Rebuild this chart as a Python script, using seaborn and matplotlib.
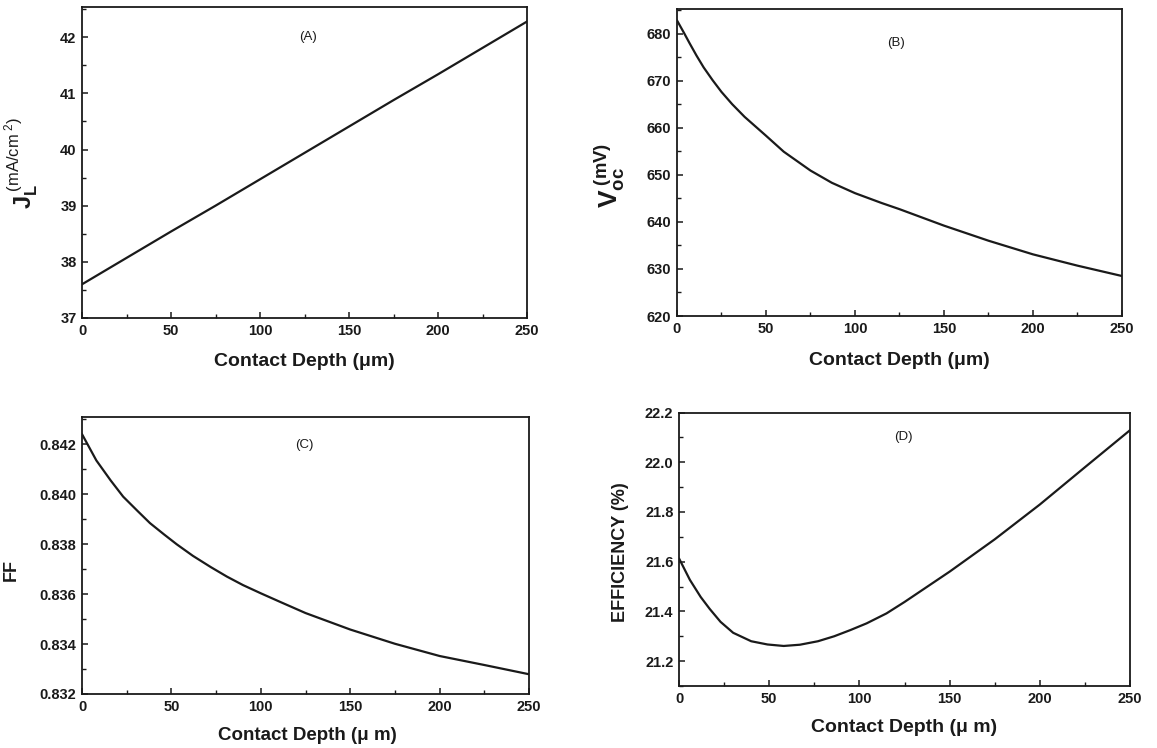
"""
plot.py
Four panels: J_L, Voc, FF and efficiency against contact depth.
"""

import matplotlib
matplotlib.use("Agg")
import matplotlib.pyplot as plt
from matplotlib.ticker import MultipleLocator, FormatStrFormatter
import pandas as pd
import seaborn as sns

# contact depth (um) and values
depth_a = [0, 25, 50, 75, 100, 125, 150, 175, 200, 225, 250]
jl = [37.6, 38.07, 38.54, 39.0, 39.47, 39.94, 40.41, 40.88, 41.34, 41.81, 42.28]

depth_b = [0, 4, 7, 11, 15, 20, 25, 31, 38, 50, 60, 75, 87, 100, 115, 125, 150,
           175, 200, 225, 250]
voc = [682.8, 680.1, 678.0, 675.3, 672.8, 670.1, 667.6, 665.0, 662.3, 658.3,
       654.9, 650.9, 648.3, 646.1, 644.0, 642.7, 639.2, 636.0, 633.1, 630.7, 628.5]

depth_c = [0, 8, 16, 23, 31, 38, 46, 53, 62, 72, 81, 90, 100, 111, 125, 150,
           175, 200, 225, 250]
ff = [0.84240, 0.84135, 0.84055, 0.83990, 0.83933, 0.83884, 0.83838, 0.83799,
      0.83753, 0.83708, 0.83670, 0.83636, 0.83603, 0.83568, 0.83524, 0.83458,
      0.83401, 0.83352, 0.83316, 0.83279]

depth_d = [0, 6, 12, 17, 23, 30, 40, 49, 58, 67, 77, 86, 95, 104, 115, 125,
           150, 175, 200, 225, 250]
eff = [21.613, 21.527, 21.458, 21.410, 21.358, 21.314, 21.280, 21.267, 21.261,
       21.266, 21.280, 21.300, 21.325, 21.352, 21.392, 21.438, 21.560, 21.690,
       21.830, 21.980, 22.129]

sns.set_style("ticks")
plt.rcParams["font.family"] = ["Liberation Sans", "DejaVu Sans"]
plt.rcParams["mathtext.fontset"] = "custom"
plt.rcParams["mathtext.rm"] = "Liberation Sans"
plt.rcParams["mathtext.bf"] = "Liberation Sans:bold"
plt.rcParams["mathtext.it"] = "Liberation Sans:italic"

ink = "#1a1a1a"
fig = plt.figure(figsize=(11.57, 7.48), dpi=100)
ax_a = fig.add_axes([0.0709, 0.5749, 0.3846, 0.4151])
ax_b = fig.add_axes([0.5851, 0.5775, 0.3846, 0.4098])
ax_c = fig.add_axes([0.0709, 0.0722, 0.3864, 0.3697])
ax_d = fig.add_axes([0.5869, 0.0829, 0.3898, 0.3656])

panels = [
    (ax_a, depth_a, jl, (37, 42.53), 1, 0.5, "(A)", (0.508, 0.905)),
    (ax_b, depth_b, voc, (620, 685.1), 10, 5, "(B)", (0.493, 0.89)),
    (ax_c, depth_c, ff, (0.832, 0.84307), 0.002, 0.001, "(C)", (0.497, 0.90)),
    (ax_d, depth_d, eff, (21.1, 22.2), 0.2, 0.1, "(D)", (0.497, 0.909)),
]

for ax, x, y, ylim, major, minor, tag, pos in panels:
    df = pd.DataFrame({"depth": x, "val": y})
    sns.lineplot(data=df, x="depth", y="val", ax=ax, color=ink, linewidth=1.6)
    ax.set_xlim(0, 250)
    ax.set_ylim(*ylim)
    ax.xaxis.set_major_locator(MultipleLocator(50))
    ax.xaxis.set_minor_locator(MultipleLocator(25))
    ax.yaxis.set_major_locator(MultipleLocator(major))
    ax.yaxis.set_minor_locator(MultipleLocator(minor))
    ax.tick_params(which="major", direction="in", length=4.5, width=1.1,
                   labelsize=10.5, pad=4, colors=ink)
    ax.tick_params(which="minor", direction="in", length=2.8, width=1.0, colors=ink)
    for sp in ax.spines.values():
        sp.set_linewidth(1.3)
        sp.set_color(ink)
    ax.text(pos[0], pos[1], tag, transform=ax.transAxes, ha="center", va="center",
            fontsize=9.5, color=ink)

ax_c.yaxis.set_major_formatter(FormatStrFormatter("%.3f"))
ax_d.yaxis.set_major_formatter(FormatStrFormatter("%.1f"))
ax_d.set_yticks([21.2, 21.4, 21.6, 21.8, 22.0, 22.2])

for ax in (ax_a, ax_b, ax_c, ax_d):
    for lab in ax.get_xticklabels() + ax.get_yticklabels():
        lab.set_fontweight("bold")

ax_a.set_xlabel("Contact Depth (\u03bcm)", fontsize=14, fontweight="bold", color=ink)
ax_b.set_xlabel("Contact Depth (\u03bcm)", fontsize=14, fontweight="bold", color=ink)
ax_c.set_xlabel("Contact Depth (\u03bc m)", fontsize=13.5, fontweight="bold", color=ink)
ax_d.set_xlabel("Contact Depth (\u03bc m)", fontsize=14, fontweight="bold", color=ink)
ax_a.xaxis.set_label_coords(0.5, -0.113)
ax_b.xaxis.set_label_coords(0.5, -0.117)
ax_c.xaxis.set_label_coords(0.505, -0.118)
ax_d.xaxis.set_label_coords(0.5, -0.121)

ax_a.set_ylabel(r"$\mathbf{J}_\mathbf{L}^{\ \mathrm{(mA/cm^{\ 2})}}$", fontsize=17, color=ink)
ax_b.set_ylabel(r"$\mathbf{V}_\mathbf{oc}^{\ \mathbf{(mV)}}$", fontsize=19, color=ink)
ax_c.set_ylabel("FF", fontsize=13, fontweight="bold", color=ink)
ax_d.set_ylabel("EFFICIENCY (%)", fontsize=13, fontweight="bold", color=ink)
ax_a.yaxis.set_label_coords(-0.092, 0.5)
ax_b.yaxis.set_label_coords(-0.113, 0.46)
ax_c.yaxis.set_label_coords(-0.139, 0.45)
ax_d.yaxis.set_label_coords(-0.112, 0.49)

fig.savefig("out.png", dpi=100, facecolor="white")
